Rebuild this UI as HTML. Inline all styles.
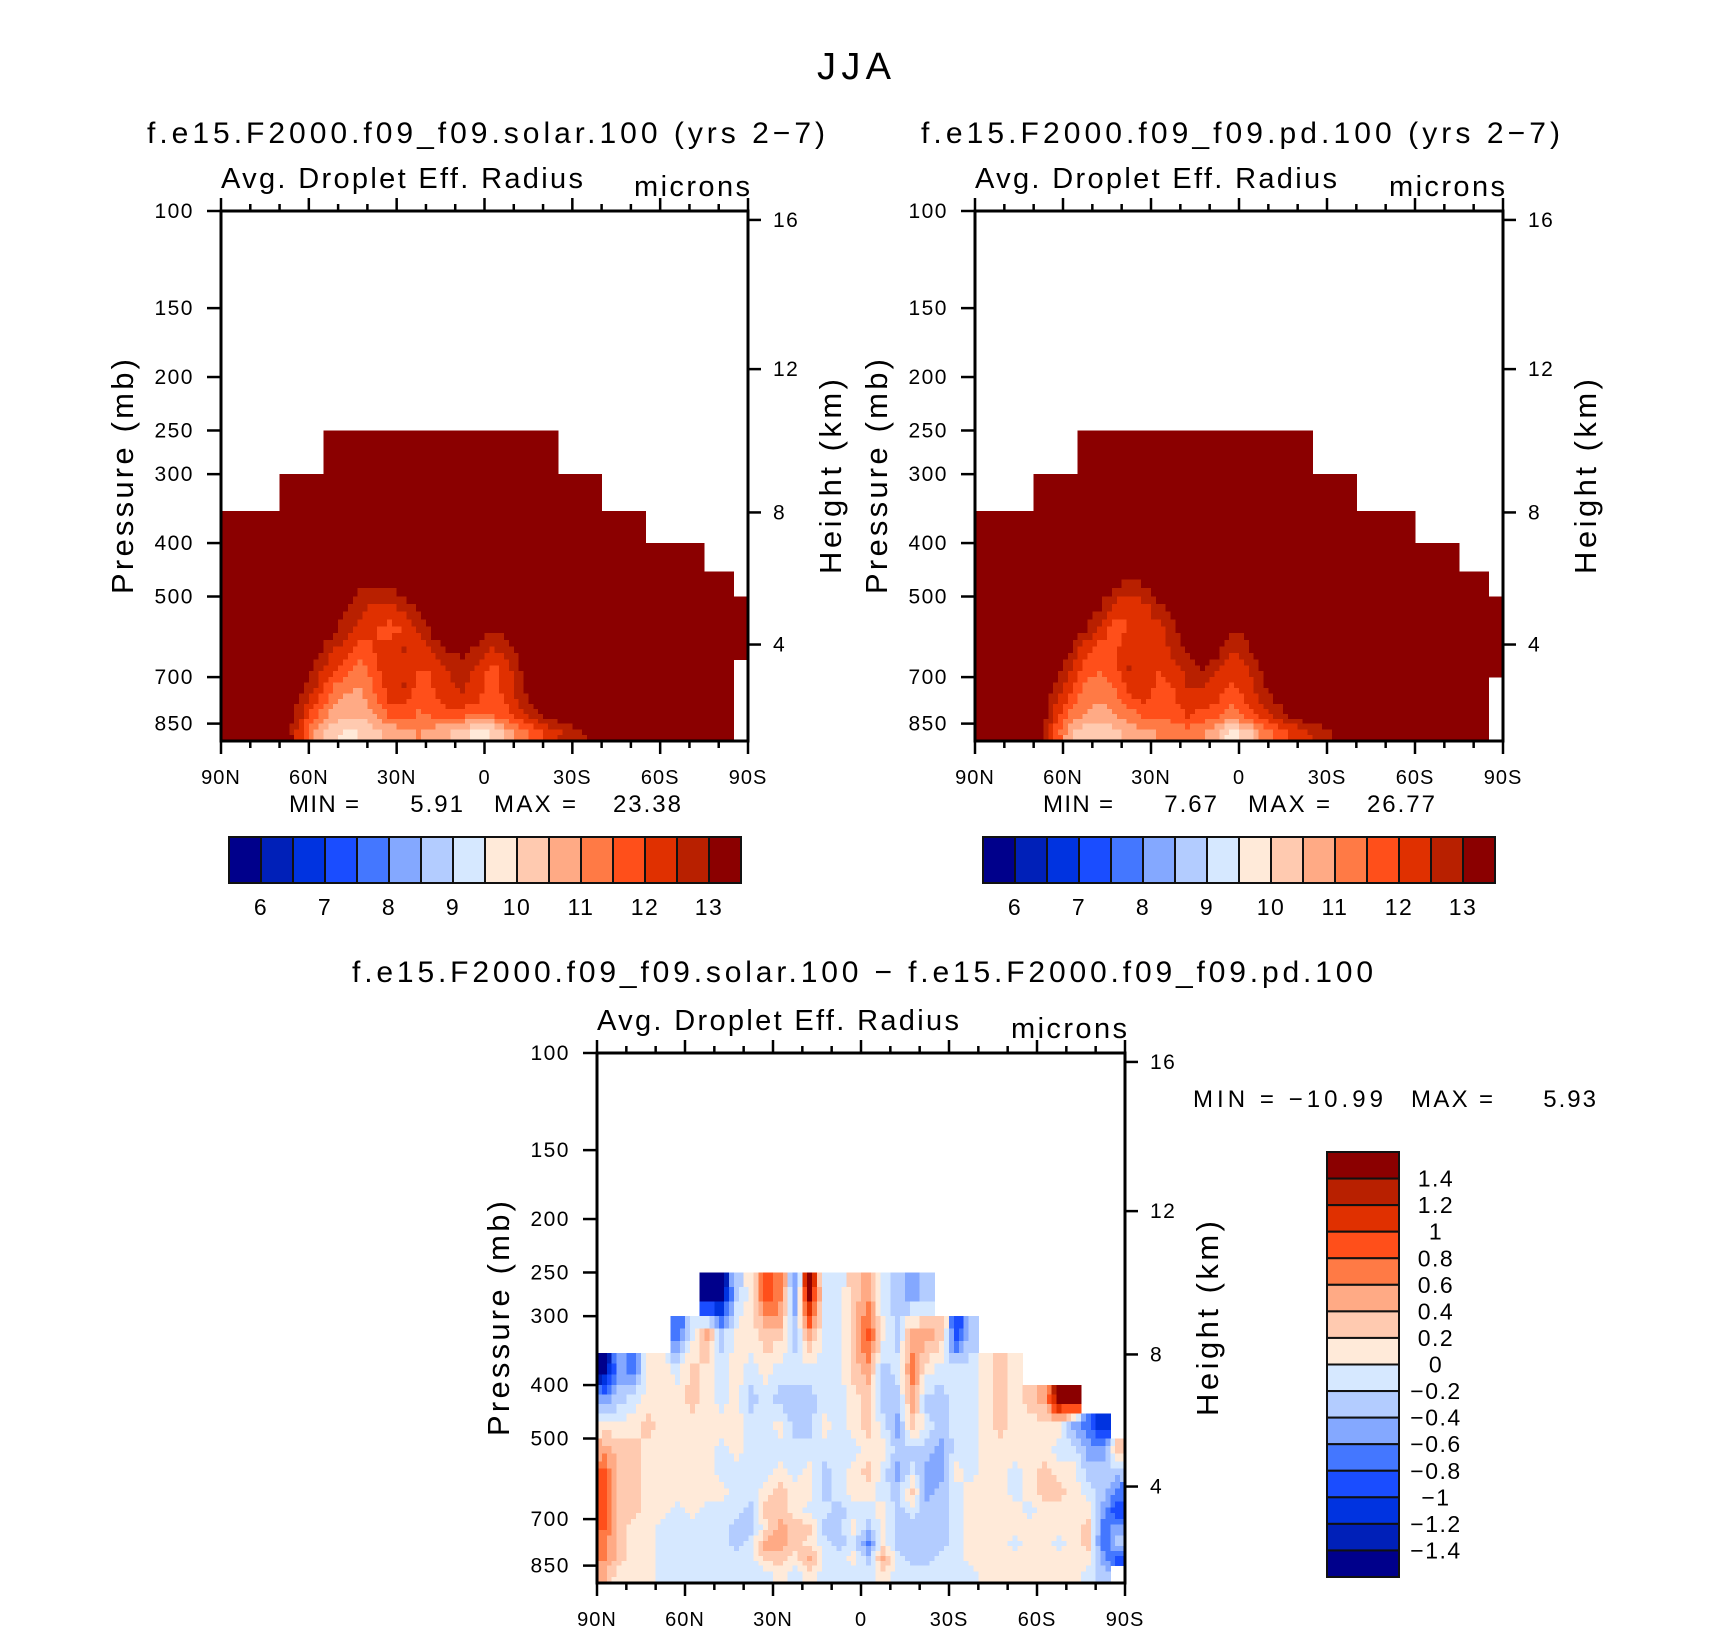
<!DOCTYPE html>
<html><head><meta charset="utf-8"><style>
html,body{margin:0;padding:0;background:#fff}
svg{display:block;font-family:"Liberation Sans",sans-serif}
</style></head><body>
<svg id="fig" width="1710" height="1633" viewBox="0 0 1710 1633">
<text x="817" y="79" font-size="38" textLength="74" lengthAdjust="spacing">JJA</text>
<text x="147" y="143" font-size="30" textLength="678" lengthAdjust="spacing">f.e15.F2000.f09_f09.solar.100 (yrs 2−7)</text>
<text x="921" y="143" font-size="30" textLength="639" lengthAdjust="spacing">f.e15.F2000.f09_f09.pd.100 (yrs 2−7)</text>
<text x="352" y="982" font-size="30" textLength="1021" lengthAdjust="spacing">f.e15.F2000.f09_f09.solar.100 − f.e15.F2000.f09_f09.pd.100</text>
<g id="p1"></g>
<g id="p2"></g>
<g id="p3"></g>
<g id="cb"></g>
<g font-size="24">
<text x="289" y="812" textLength="70" lengthAdjust="spacing">MIN =</text><text x="465" y="812" text-anchor="end" letter-spacing="2">5.91</text>
<text x="494" y="812" textLength="82" lengthAdjust="spacing">MAX =</text><text x="683" y="812" text-anchor="end" letter-spacing="2">23.38</text></g>
<g font-size="24">
<text x="1043" y="812" textLength="70" lengthAdjust="spacing">MIN =</text><text x="1219" y="812" text-anchor="end" letter-spacing="2">7.67</text>
<text x="1248" y="812" textLength="82" lengthAdjust="spacing">MAX =</text><text x="1437" y="812" text-anchor="end" letter-spacing="2">26.77</text></g>
<g font-size="24">
<text x="1193" y="1107" textLength="190" lengthAdjust="spacing">MIN = −10.99</text>
<text x="1411" y="1107" textLength="82" lengthAdjust="spacing">MAX =</text><text x="1598" y="1107" text-anchor="end" letter-spacing="2">5.93</text></g>
</svg>
<script>
const NS="http://www.w3.org/2000/svg";
const pEdges=[250,300,350,400,450,500,550,600,650,700,750,800,850,914];
const pTicks=[100,150,200,250,300,400,500,700,850];
const hTickLabels=[16,12,8,4];
const hTickP=[103.8,193.5,352,611];
const latTicks=[90,60,30,0,-30,-60,-90];
const latLabels=["90N","60N","30N","0","30S","60S","90S"];
const colors=["#00008b","#0020b8","#0033e0","#1a4dff","#4477ff","#84a8ff","#b3ccff","#d6e8ff","#ffead9","#ffcab0","#ffaa85","#ff7a45","#ff4f1a","#e03000","#b82000","#8b0000"];
const cbLabels1=[6,7,8,9,10,11,12,13];
const cbLabels3=["1.4","1.2","1","0.8","0.6","0.4","0.2","0","−0.2","−0.4","−0.6","−0.8","−1","−1.2","−1.4"];
const top1=[350,350,350,350,300,300,300,250,250,250,250,250,250,250,250,250,250,250,250,250,250,250,250,300,300,300,350,350,350,400,400,400,400,450,450,500];
const top2=[350,350,350,350,300,300,300,250,250,250,250,250,250,250,250,250,250,250,250,250,250,250,250,300,300,300,350,350,350,350,400,400,400,450,450,500];
const top3=[350,350,350,350,350,300,300,250,250,250,250,250,250,250,250,250,250,250,250,250,250,250,250,300,300,300,350,350,350,400,400,400,400,450,450,500];
const solar=[
[13.5,13.5,13.5,13.5,13.5,13.5,13.5,13.5,13.5,13.5,13.5,13.5,13.5,13.5,13.5,13.5,13.5,13.5,13.5,13.5,13.5,13.5,13.5,13.5,13.5,13.5,13.5,13.5,13.5,13.5,13.5,13.5,13.5,13.5,13.5,13.5],
[13.5,13.5,13.5,13.5,13.5,13.5,13.5,13.5,13.5,13.5,13.5,13.5,13.5,13.5,13.5,13.5,13.5,13.5,13.5,13.5,13.5,13.5,13.5,13.5,13.5,13.5,13.5,13.5,13.5,13.5,13.5,13.5,13.5,13.5,13.5,13.5],
[13.5,13.5,13.5,13.5,13.5,13.5,13.5,13.5,13.5,13.5,13.5,13.5,13.5,13.5,13.5,13.5,13.5,13.5,13.5,13.5,13.5,13.5,13.5,13.5,13.5,13.5,13.5,13.5,13.5,13.5,13.5,13.5,13.5,13.5,13.5,13.5],
[13.5,13.5,13.5,13.5,13.5,13.5,13.5,13.5,13.5,13.5,13.5,13.5,13.5,13.5,13.5,13.5,13.5,13.5,13.5,13.5,13.5,13.5,13.5,13.5,13.5,13.5,13.5,13.5,13.5,13.5,13.5,13.5,13.5,13.5,13.5,13.5],
[13.5,13.5,13.5,13.5,13.5,13.5,13.5,13.5,13.5,13,13,13,13.5,13.5,13.5,13.5,13.5,13.5,13.5,13.5,13.5,13.5,13.5,13.5,13.5,13.5,13.5,13.5,13.5,13.5,13.5,13.5,13.5,13.5,13.5,13.5],
[13.5,13.5,13.5,13.5,13.5,13.5,13.5,13.5,13,12.7,12.3,12.3,12.7,13,13.5,13.5,13.5,13.5,13.5,13.5,13.5,13.5,13.5,13.5,13.5,13.5,13.5,13.5,13.5,13.5,13.5,13.5,13.5,13.5,13.5,13.5],
[13.5,13.5,13.5,13.5,13.5,13.5,13.5,13.2,12.7,12.3,12,11.8,12,12.5,13.2,13.5,13.5,13.5,13,13.2,13.5,13.5,13.5,13.5,13.5,13.5,13.5,13.5,13.5,13.5,13.5,13.5,13.5,13.5,13.5,13.5],
[13.5,13.5,13.5,13.5,13.5,13.5,13.2,12.6,12.2,11.8,12,12.3,12.5,12.2,12.6,13,13.2,12.8,12.4,12.7,13.3,13.5,13.5,13.5,13.5,13.5,13.5,13.5,13.5,13.5,13.5,13.5,13.5,13.5,13.5,13.5],
[13.5,13.5,13.5,13.5,13.5,13.5,12.8,12.2,11.7,11.3,11.8,12.4,12.3,12,12,12.5,12.8,12.4,11.8,12.3,13,13.5,13.5,13.5,13.5,13.5,13.5,13.5,13.5,13.5,13.5,13.5,13.5,13.5,13.5,null],
[13.5,13.5,13.5,13.5,13.5,13.2,12.5,11.6,11.2,11,11.6,12.3,12.5,11.8,12,12.4,12.6,12.2,11.8,12.2,12.9,13.5,13.5,13.5,13.5,13.5,13.5,13.5,13.5,13.5,13.5,13.5,13.5,13.5,13.5,null],
[13.5,13.5,13.5,13.5,13.5,12.8,12,11.3,10.8,10.8,11.3,12,12.1,11.6,11.8,12.2,12.4,12,11.7,12,12.7,13.2,13.5,13.5,13.5,13.5,13.5,13.5,13.5,13.5,13.5,13.5,13.5,13.5,13.5,null],
[13.5,13.5,13.5,13.5,13.5,12.5,11.5,10.8,10.5,10.5,10.9,11.5,11.7,11.4,11.5,11.6,11.5,11.3,11.4,11.8,12.3,12.8,13.2,13.5,13.5,13.5,13.5,13.5,13.5,13.5,13.5,13.5,13.5,13.5,13.5,null],
[13.5,13.5,13.5,13.5,13.3,12,10.8,10.2,9.9,10,10.3,10.6,10.9,11,10.8,10.5,10.2,9.8,10,10.6,11.2,11.8,12.2,12.6,12.9,13.2,13.4,13.5,13.5,13.5,13.5,13.5,13.5,13.5,13.5,null]];
const pd=[
[13.5,13.5,13.5,13.5,13.5,13.5,13.5,13.5,13.5,13.5,13.5,13.5,13.5,13.5,13.5,13.5,13.5,13.5,13.5,13.5,13.5,13.5,13.5,13.5,13.5,13.5,13.5,13.5,13.5,13.5,13.5,13.5,13.5,13.5,13.5,13.5],
[13.5,13.5,13.5,13.5,13.5,13.5,13.5,13.5,13.5,13.5,13.5,13.5,13.5,13.5,13.5,13.5,13.5,13.5,13.5,13.5,13.5,13.5,13.5,13.5,13.5,13.5,13.5,13.5,13.5,13.5,13.5,13.5,13.5,13.5,13.5,13.5],
[13.5,13.5,13.5,13.5,13.5,13.5,13.5,13.5,13.5,13.5,13.5,13.5,13.5,13.5,13.5,13.5,13.5,13.5,13.5,13.5,13.5,13.5,13.5,13.5,13.5,13.5,13.5,13.5,13.5,13.5,13.5,13.5,13.5,13.5,13.5,13.5],
[13.5,13.5,13.5,13.5,13.5,13.5,13.5,13.5,13.5,13.5,13.5,13.5,13.5,13.5,13.5,13.5,13.5,13.5,13.5,13.5,13.5,13.5,13.5,13.5,13.5,13.5,13.5,13.5,13.5,13.5,13.5,13.5,13.5,13.5,13.5,13.5],
[13.5,13.5,13.5,13.5,13.5,13.5,13.5,13.5,13.5,13.2,12.8,13,13.5,13.5,13.5,13.5,13.5,13.5,13.5,13.5,13.5,13.5,13.5,13.5,13.5,13.5,13.5,13.5,13.5,13.5,13.5,13.5,13.5,13.5,13.5,13.5],
[13.5,13.5,13.5,13.5,13.5,13.5,13.5,13.5,13,12.3,12,12.3,12.8,13.2,13.5,13.5,13.5,13.5,13.5,13.5,13.5,13.5,13.5,13.5,13.5,13.5,13.5,13.5,13.5,13.5,13.5,13.5,13.5,13.5,13.5,13.5],
[13.5,13.5,13.5,13.5,13.5,13.5,13.5,13,12.3,11.8,12,12.2,12.3,12.8,13.5,13.5,13.5,13,13.2,13.5,13.5,13.5,13.5,13.5,13.5,13.5,13.5,13.5,13.5,13.5,13.5,13.5,13.5,13.5,13.5,13.5],
[13.5,13.5,13.5,13.5,13.5,13.5,13,12.2,11.8,11.8,12.4,12.3,12.2,12.6,13.1,13.5,13.2,12.5,12.8,13.5,13.5,13.5,13.5,13.5,13.5,13.5,13.5,13.5,13.5,13.5,13.5,13.5,13.5,13.5,13.5,13.5],
[13.5,13.5,13.5,13.5,13.5,13.2,12.6,11.8,11.6,11.8,12.5,12.4,12,12.3,12.7,13,12.6,12.2,12.4,13,13.5,13.5,13.5,13.5,13.5,13.5,13.5,13.5,13.5,13.5,13.5,13.5,13.5,13.5,13.5,13.5],
[13.5,13.5,13.5,13.5,13.5,12.9,12.2,11.4,11.2,11.5,12.2,12.4,11.8,12,12.5,12.5,12.2,11.9,12.2,12.8,13.5,13.5,13.5,13.5,13.5,13.5,13.5,13.5,13.5,13.5,13.5,13.5,13.5,13.5,13.5,null],
[13.5,13.5,13.5,13.5,13.5,12.6,11.8,11.2,11,11.2,11.8,12,11.7,11.9,12.3,12.2,12,11.6,12,12.5,13,13.5,13.5,13.5,13.5,13.5,13.5,13.5,13.5,13.5,13.5,13.5,13.5,13.5,13.5,null],
[13.5,13.5,13.5,13.5,13.5,12.2,11.3,10.9,10.8,10.9,11.2,11.5,11.5,11.7,12,11.8,11.6,11.2,11.6,12.1,12.5,13,13.3,13.5,13.5,13.5,13.5,13.5,13.5,13.5,13.5,13.5,13.5,13.5,13.5,null],
[13.5,13.5,13.5,13.5,13.2,11.8,10.6,10.1,10,10.3,10.6,10.9,11,11.2,11.3,11,10.5,9.8,10.2,11,11.6,12,12.4,12.7,13,13.3,13.5,13.5,13.5,13.5,13.5,13.5,13.5,13.5,13.5,null]];
// difference field, one array per 5-degree latitude band (90N -> 90S), levels top -> bottom
const diffCols=[
[0.1,0.1,-1.5,-0.5,0.1,0.5,0.8,0.9,0.9,0.8,0.7,0.6,0.4],
[0.1,0.1,-0.5,-0.3,0.1,0.3,0.3,0.2,0.3,0.3,0.3,0.3,0.1],
[0.1,0.1,-0.7,-0.1,0.1,0.3,0.3,0.3,0.3,0.1,0.1,0.1,0.1],
[0.1,0.1,0.1,0.1,0.3,0.1,0.1,0.1,0.1,0.1,0.1,0.1,0.1],
[0.1,0.1,0.1,0.1,0.1,0.1,0.1,0.1,0.1,-0.1,-0.1,-0.1,-0.1],
[0.1,-0.8,-0.1,0.1,0.1,0.1,0.1,0.1,-0.1,-0.1,-0.1,-0.1,-0.1],
[0.1,-0.1,0.3,0.3,0.1,0.1,0.1,0.1,0.1,-0.1,-0.1,-0.1,-0.1],
[-1.5,0.5,0.1,0.1,0.1,0.1,0.1,0.1,-0.1,-0.1,-0.1,-0.1,-0.1],
[-1.5,-0.3,-0.1,-0.1,0.1,-0.1,-0.1,0.1,-0.1,-0.1,-0.1,-0.1,-0.1],
[-0.3,0.1,0.1,0.1,0.1,0.1,-0.1,-0.1,-0.1,-0.3,-0.3,-0.1,-0.1],
[0.1,0.1,-0.1,-0.3,-0.1,-0.1,-0.1,-0.1,-0.3,-0.3,-0.1,-0.1,-0.1],
[0.9,0.3,0.1,-0.1,-0.1,-0.1,-0.1,0.1,0.3,0.1,0.5,0.3,-0.1],
[0.7,0.3,-0.1,-0.3,0.1,-0.1,0.1,0.3,0.3,0.5,0.5,0.3,0.1],
[-0.6,-0.3,-0.1,-0.3,-0.3,-0.1,-0.1,0.1,0.1,0.3,0.3,0.1,-0.1],
[1.5,0.5,-0.1,-0.3,-0.3,-0.1,0.1,0.1,-0.1,0.3,0.1,0.5,0.1],
[-0.1,-0.1,-0.1,-0.1,0.1,-0.1,-0.3,-0.3,-0.1,-0.3,-0.1,-0.1,-0.1],
[-0.1,-0.1,-0.1,-0.1,-0.1,-0.1,-0.1,-0.1,-0.3,-0.3,-0.3,-0.1,-0.1],
[0.3,0.3,0.3,0.1,0.1,-0.1,0.1,0.1,-0.1,0.1,-0.1,0.1,-0.1],
[0.5,0.9,0.5,0.3,0.3,0.1,0.3,0.1,-0.1,-0.3,-0.7,-0.3,-0.1],
[-0.1,0.1,-0.3,-0.3,-0.1,0.1,-0.1,-0.1,0.1,0.1,0.1,0.5,0.1],
[-0.3,-0.3,-0.1,-0.3,-0.5,-0.3,-0.5,-0.3,-0.3,-0.3,-0.3,-0.1,-0.1],
[-0.5,0.5,0.7,0.5,0.3,-0.3,-0.1,0.3,-0.1,-0.3,-0.3,-0.3,-0.1],
[-0.3,0.5,0.1,-0.3,-0.1,-0.3,-0.5,-0.5,-0.3,-0.3,-0.3,-0.3,-0.1],
[0.1,0.3,-0.1,-0.3,-0.3,-0.5,-0.5,-0.3,-0.3,-0.3,-0.3,-0.1,-0.1],
[0.1,-1.0,-0.1,-0.1,-0.1,-0.1,0.1,-0.1,-0.1,-0.1,-0.1,-0.1,-0.1],
[0.1,-0.3,-0.1,-0.1,-0.1,-0.1,-0.1,0.1,0.1,0.1,0.1,0.1,-0.1],
[0.1,0.1,0.1,0.1,0.1,0.1,0.1,0.1,0.1,0.1,0.1,0.1,0.1],
[0.1,0.1,0.3,0.3,0.3,0.1,0.1,0.1,0.1,0.1,0.1,0.1,0.1],
[0.1,0.1,0.1,0.1,0.1,0.1,-0.1,-0.1,0.1,0.1,-0.1,0.1,0.1],
[0.1,0.1,0.1,0.3,0.1,0.1,0.1,0.1,-0.1,0.1,0.1,0.1,0.1],
[0.1,0.1,0.1,0.5,0.1,0.1,0.3,0.3,0.1,0.1,0.1,0.1,0.1],
[0.1,0.1,0.1,1.5,0.1,-0.1,0.1,0.3,0.1,0.1,-0.1,0.1,0.1],
[0.1,0.1,0.1,1.5,-0.5,-0.1,0.1,0.1,0.1,0.1,0.1,0.1,0.1],
[0.1,0.1,0.1,0.1,-0.8,-0.5,-0.3,-0.1,0.1,0.3,0.3,0.1,-0.1],
[0.1,0.1,0.1,0.1,-1.2,-0.5,-0.3,-0.3,-0.5,-0.7,-0.8,-0.5,-0.3],
[0.1,0.1,0.1,0.1,0.1,0.3,-0.3,-0.7,-1.0,-0.5,-0.3,-0.9,null]];

function mk(tag,attrs,parent){const e=document.createElementNS(NS,tag);for(const k in attrs)e.setAttribute(k,attrs[k]);parent.appendChild(e);return e;}
function idxAbs(v){return Math.max(0,Math.min(15,Math.floor((v-6)/0.5)+1));}
function idxDiff(v){return Math.max(0,Math.min(15,Math.floor((v+1.4)/0.2+1e-9)+1));}

function panel(gid,L,T,W,H,get,tops,idxFn){
  const g=document.getElementById(gid);
  const xS=lat=>L+(90-lat)/180*W;
  const yS=p=>T+Math.log(p/100)/Math.log(9.14)*H;
  const NC=36,NR=13,S=3;
  const valid=(c,r)=>c>=0&&c<NC&&r>=0&&r<NR&&get(c,r)!=null&&pEdges[r]>=tops[c];
  const field=mk('g',{'shape-rendering':'crispEdges'},g);
  
  
  for(let c=0;c<NC;c++)for(let r=0;r<NR;r++){
    if(!valid(c,r))continue;
    const v=get(c,r);
    const lat0=90-5*c,lat1=85-5*c;
    const lp0=Math.log(pEdges[r]),lp1=Math.log(pEdges[r+1]);
    for(let i=0;i<S;i++)for(let j=0;j<S;j++){
      const cx=c+(i+0.5)/S-0.5,cy=r+(j+0.5)/S-0.5;
      const c0=Math.floor(cx),r0=Math.floor(cy),tx=cx-c0,ty=cy-r0;
      const q=(cc,rr)=>valid(cc,rr)?get(cc,rr):v;
      const val=(1-tx)*(1-ty)*q(c0,r0)+tx*(1-ty)*q(c0+1,r0)+(1-tx)*ty*q(c0,r0+1)+tx*ty*q(c0+1,r0+1);
      const xa=xS(lat0+(lat1-lat0)*i/S),xb=xS(lat0+(lat1-lat0)*(i+1)/S);
      const ya=yS(Math.exp(lp0+(lp1-lp0)*j/S)),yb=yS(Math.exp(lp0+(lp1-lp0)*(j+1)/S));
      const rc=mk('rect',{x:xa.toFixed(2),y:ya.toFixed(2),width:(xb-xa+0.6).toFixed(2),height:(yb-ya+0.6).toFixed(2),fill:colors[idxFn(val)]},field);
      
      
    }
  }
  const ax=mk('g',{stroke:'#000','stroke-width':2.5,fill:'none'},g);
  
  
  mk('rect',{x:L,y:T,width:W,height:H,'stroke-width':3},ax);
  for(let lat=90;lat>=-90;lat-=10){
    const maj=lat%30===0,len=maj?13:7,x=xS(lat);
    mk('line',{x1:x,y1:T,x2:x,y2:T-len},ax);
    mk('line',{x1:x,y1:T+H,x2:x,y2:T+H+len},ax);
  }
  pTicks.forEach(p=>{const y=yS(p);mk('line',{x1:L-14,y1:y,x2:L,y2:y},ax);
    const t=mk('text',{x:L-27,y:y+7,'font-size':21,'letter-spacing':1.5,'text-anchor':'end'},g);t.textContent=p;
    });
  hTickP.forEach((p,k)=>{const y=yS(p);mk('line',{x1:L+W,y1:y,x2:L+W+13,y2:y},ax);
    const t=mk('text',{x:L+W+25,y:y+7,'font-size':21,'letter-spacing':1.5},g);t.textContent=hTickLabels[k];
    });
  latTicks.forEach((lat,k)=>{const t=mk('text',{x:xS(lat),y:T+H+43,'font-size':20,'letter-spacing':1,'text-anchor':'middle'},g);t.textContent=latLabels[k];
    });
  let t=mk('text',{x:L,y:T-23,'font-size':29,textLength:362,lengthAdjust:'spacing'},g);t.textContent='Avg. Droplet Eff. Radius';
  
  t=mk('text',{x:L+W-114,y:T-15,'font-size':29,textLength:116,lengthAdjust:'spacing'},g);t.textContent='microns';
  
  const cy=T+H*0.5;
  t=mk('text',{x:-117,y:0,'font-size':31,textLength:235,lengthAdjust:'spacing',transform:`translate(${L-88},${cy+1}) rotate(-90)`},g);t.textContent='Pressure (mb)';
  
  t=mk('text',{x:-97,y:0,'font-size':31,textLength:195,lengthAdjust:'spacing',transform:`translate(${L+W+93},${cy+1}) rotate(-90)`},g);t.textContent='Height (km)';
  
}
panel('p1',221,211,527,530,(c,r)=>solar[r][c],top1,idxAbs);
panel('p2',975,211,528,530,(c,r)=>pd[r][c],top2,idxAbs);
panel('p3',597,1053,528,530,(c,r)=>diffCols[c][r],top3,idxDiff);

const cb=document.getElementById('cb');
function hbar(x0,y0,w,h,name){
  const g=mk('g',{},cb);
  
  
  const bw=w/16;
  colors.forEach((col,i)=>{mk('rect',{x:x0+i*bw,y:y0,width:bw,height:h,fill:col,stroke:'#111','stroke-width':2},g);});
  cbLabels1.forEach((v,k)=>{const t=mk('text',{x:x0+(2*k+1)*bw,y:y0+h+32,'font-size':23,'letter-spacing':1.5,'text-anchor':'middle'},g);t.textContent=v;});
}
hbar(229,837,512,46,'colorbar-panel1');
hbar(983,837,512,46,'colorbar-panel2');
(function(){
  const g=mk('g',{},cb);
  
  
  const x0=1327,y0=1152,w=72,h=425,bh=h/16;
  for(let i=0;i<16;i++)mk('rect',{x:x0,y:y0+i*bh,width:w,height:bh,fill:colors[15-i],stroke:'#111','stroke-width':2},g);
  cbLabels3.forEach((s,k)=>{const t=mk('text',{x:1436,y:y0+(k+1)*bh+8,'font-size':23,'letter-spacing':1.5,'text-anchor':'middle'},g);t.textContent=s;});
})();
</script>
</body></html>
